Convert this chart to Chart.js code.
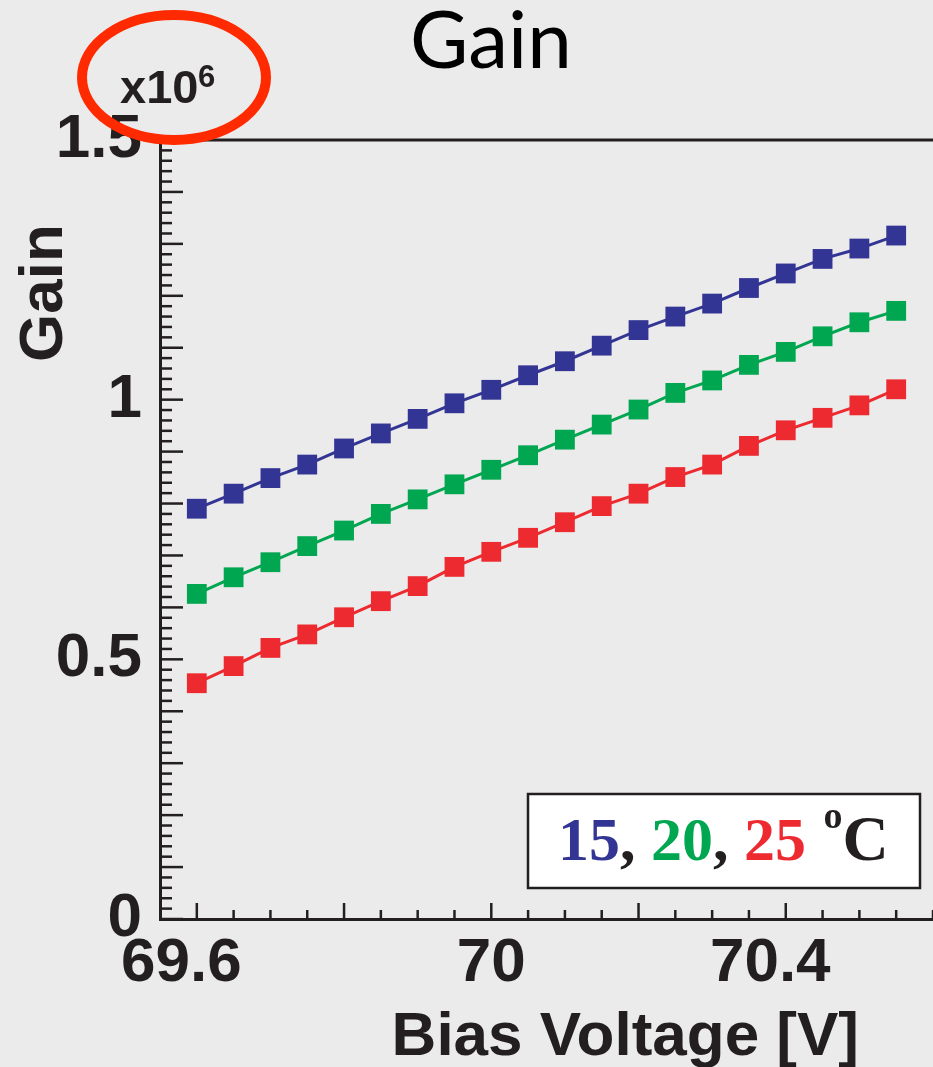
<!DOCTYPE html>
<html><head><meta charset="utf-8">
<script src="https://cdn.jsdelivr.net/npm/chart.js@4"></script>
<style>
html,body{margin:0;padding:0;background:#ebebeb;overflow:hidden;}
canvas{display:block;}
</style></head><body>
<canvas id="c" width="933" height="1067"></canvas>
<script>
// Bias voltage [V]
const voltages = [69.60,69.65,69.70,69.75,69.80,69.85,69.90,69.95,70.00,70.05,
                  70.10,70.15,70.20,70.25,70.30,70.35,70.40,70.45,70.50,70.55];
// Gain in units of 10^6
const gain15 = [0.790,0.819,0.849,0.875,0.906,0.935,0.963,0.993,1.019,1.047,
                1.074,1.104,1.134,1.160,1.185,1.215,1.243,1.271,1.291,1.316];
const gain20 = [0.626,0.658,0.687,0.718,0.748,0.780,0.808,0.837,0.865,0.893,
                0.923,0.952,0.981,1.013,1.037,1.067,1.092,1.122,1.149,1.171];
const gain25 = [0.454,0.487,0.522,0.548,0.581,0.612,0.641,0.678,0.707,0.734,
                0.764,0.795,0.819,0.851,0.875,0.911,0.941,0.965,0.989,1.020];
const seriesNames = ['15', '20', '25'];
const xTickLabels = [69.6, 70, 70.4];
const yTickLabels = [0, 0.5, 1, 1.5];
const xMajorTicks = [69.6, 69.8, 70.0, 70.2, 70.4];
const xMinorStep = 0.05;
const yMajorStep = 0.1;
const yMinorStep = 0.02;

const colors = ['#333594', '#00a650', '#ec2a30'];
const INK = '#231f20';

const toPts = arr => arr.map((v, i) => ({x: voltages[i], y: v}));
const mkSet = (name, arr, col) => ({
  label: name, data: toPts(arr), borderColor: col, backgroundColor: col,
  borderWidth: 3, pointStyle: 'rect', pointRadius: 14, pointHoverRadius: 14,
  pointBorderWidth: 0, tension: 0, fill: false
});

const decor = {
  id: 'decor',
  afterDraw(chart) {
    const ctx = chart.ctx, a = chart.chartArea;
    const xs = chart.scales.x, ys = chart.scales.y;
    ctx.save();
    // top frame line
    ctx.strokeStyle = INK; ctx.lineWidth = 3;
    ctx.beginPath(); ctx.moveTo(a.left, a.top); ctx.lineTo(a.right, a.top); ctx.stroke();
    // y ticks (inward)
    ctx.lineWidth = 2.5;
    const nY = Math.round((ys.max - ys.min) / yMinorStep);
    for (let i = 0; i <= nY; i++) {
      const v = ys.min + i * yMinorStep;
      const major = Math.abs(v / yMajorStep - Math.round(v / yMajorStep)) < 1e-6;
      const py = ys.getPixelForValue(v);
      ctx.beginPath(); ctx.moveTo(a.left, py); ctx.lineTo(a.left + (major ? 23 : 12), py); ctx.stroke();
    }
    // x ticks (inward)
    for (let v = xMajorTicks[0]; v < xs.max; v += xMinorStep) {
      const major = xMajorTicks.some(m => Math.abs(m - v) < 1e-6);
      const px = xs.getPixelForValue(v);
      if (px > a.right) break;
      ctx.beginPath(); ctx.moveTo(px, a.bottom); ctx.lineTo(px, a.bottom - (major ? 16 : 9)); ctx.stroke();
    }
    // title
    ctx.fillStyle = '#000';
    ctx.font = '80px Lato';
    ctx.textAlign = 'center'; ctx.textBaseline = 'alphabetic';
    ctx.fillText('Gain', 491, 68);
    // axis titles
    ctx.fillStyle = INK;
    ctx.font = 'bold 62px "Liberation Sans"';
    ctx.textAlign = 'right';
    ctx.fillText('Bias Voltage [V]', 859, 1055);
    ctx.save();
    ctx.translate(62, 293); ctx.rotate(-Math.PI / 2);
    ctx.textAlign = 'center';
    ctx.fillText('Gain', 0, 0);
    ctx.restore();
    // exponent label
    ctx.textAlign = 'left';
    ctx.font = 'bold 47px "Liberation Sans"';
    ctx.fillText('x10', 120, 103);
    ctx.font = 'bold 31px "Liberation Sans"';
    ctx.fillText('6', 198, 87);
    // red ellipse
    ctx.strokeStyle = '#ff2a00'; ctx.lineWidth = 10;
    ctx.beginPath(); ctx.ellipse(174, 77.5, 92, 62.5, 0, 0, Math.PI * 2); ctx.stroke();
    // legend box
    ctx.fillStyle = '#ffffff';
    ctx.fillRect(528, 794, 392, 94);
    ctx.strokeStyle = INK; ctx.lineWidth = 2.5;
    ctx.strokeRect(528, 794, 392, 94);
    let x = 558;
    const base = 860;
    const parts = [
      [seriesNames[0], colors[0]], [', ', INK],
      [seriesNames[1], colors[1]], [', ', INK],
      [seriesNames[2], colors[2]], [' ', INK]
    ];
    ctx.font = 'bold 62px "Liberation Serif"';
    for (const [t, c] of parts) {
      ctx.fillStyle = c; ctx.fillText(t, x, base); x += ctx.measureText(t).width;
    }
    ctx.fillStyle = INK;
    ctx.font = 'bold 38px "Liberation Serif"';
    ctx.fillText('o', x + 2, 828);
    x += ctx.measureText('o').width + 2;
    ctx.font = 'bold 64px "Liberation Serif"';
    ctx.fillText('C', x, base);
    ctx.restore();
  }
};

// decimal x labels sit a little left of their tick in the reference
const xLabel = v => {
  const s = String(Math.round(v * 10) / 10);
  return s.includes('.') ? s + '\u2002' : s;
};

new Chart(document.getElementById('c'), {
  type: 'line',
  data: { datasets: [mkSet(seriesNames[0], gain15, colors[0]), mkSet(seriesNames[1], gain20, colors[1]), mkSet(seriesNames[2], gain25, colors[2])] },
  options: {
    responsive: false, animation: false, devicePixelRatio: 1,
    layout: { autoPadding: false, padding: { top: 140, right: 0, left: 0, bottom: 0 } },
    plugins: { legend: { display: false }, tooltip: { enabled: false }, title: { display: false } },
    events: [],
    scales: {
      x: {
        type: 'linear', min: 69.55, max: 70.6,
        afterBuildTicks: s => { s.ticks = xTickLabels.map(v => ({value: v})); },
        afterFit: s => { s.height = 148; s.paddingLeft = 0; s.paddingRight = 0; },
        ticks: { callback: xLabel, color: INK, padding: 14,
                 maxRotation: 0, autoSkip: false,
                 font: { family: 'Liberation Sans', weight: 'bold', size: 62, lineHeight: 1 } },
        grid: { display: false, drawTicks: false },
        border: { display: true, color: INK, width: 3 }
      },
      y: {
        type: 'linear', min: 0, max: 1.5,
        afterBuildTicks: s => { s.ticks = yTickLabels.map(v => ({value: v})); },
        afterFit: s => { s.width = 160; s.paddingTop = 0; s.paddingBottom = 0; },
        ticks: { callback: v => String(v), color: INK, padding: 18, autoSkip: false,
                 font: { family: 'Liberation Sans', weight: 'bold', size: 62, lineHeight: 1 } },
        grid: { display: false, drawTicks: false },
        border: { display: true, color: INK, width: 3 }
      }
    }
  },
  plugins: [decor]
});
</script>
</body></html>
